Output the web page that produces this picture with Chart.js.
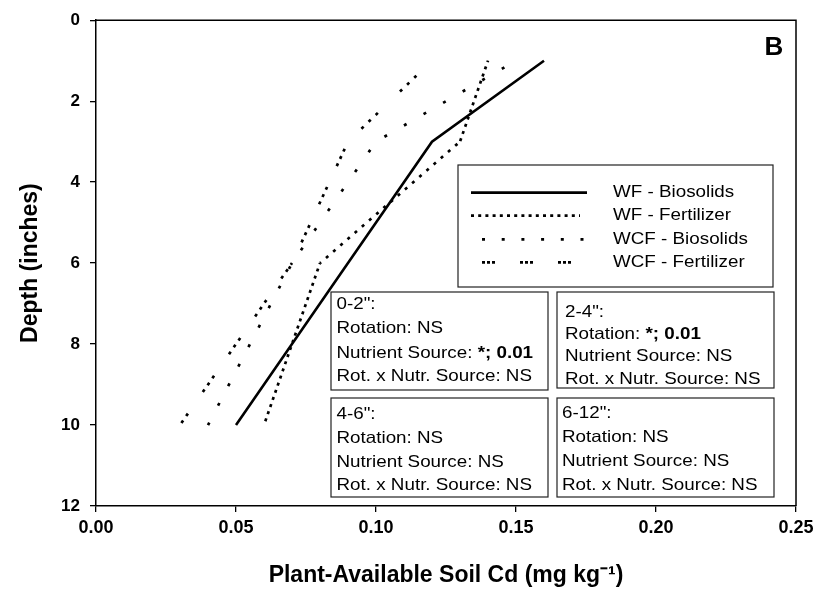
<!DOCTYPE html>
<html><head><meta charset="utf-8">
<script src="https://cdn.jsdelivr.net/npm/chart.js@4.4.1/dist/chart.umd.min.js"></script>
<style>html,body{margin:0;padding:0;background:#fff;}#wrap{width:819px;height:595px;}</style>
</head><body><div id="wrap"><canvas id="c" width="819" height="595"></canvas></div>
<script>
// ---- data ----
const depths = [1, 3, 6, 10];
const wfBiosolids   = [0.16, 0.12, 0.09, 0.05];
const wfFertilizer  = [0.14, 0.13, 0.08, 0.06];
const wcfBiosolids  = [0.15, 0.10, 0.07, 0.04];
const wcfFertilizer = [0.12, 0.09, 0.07, 0.03];
const seriesNames = ['WF - Biosolids', 'WF - Fertilizer', 'WCF - Biosolids', 'WCF - Fertilizer'];
const xTickValues = [0, 0.05, 0.10, 0.15, 0.20, 0.25];
const yTickValues = [0, 2, 4, 6, 8, 10, 12];
const statTitles = ['0-2":', '2-4":', '4-6":', '6-12":'];
const rotationResults = ['NS', '*; 0.01', 'NS', 'NS'];
const nutrientResults = ['*; 0.01', 'NS', 'NS', 'NS'];
const interactionResults = ['NS', 'NS', 'NS', 'NS'];
const panelLabel = 'B';

const FONT = '"Liberation Sans", Arial, Helvetica, sans-serif';
const pts = xs => xs.map((x, i) => ({x: x, y: depths[i]}));
const seriesData = [wfBiosolids, wfFertilizer, wcfBiosolids, wcfFertilizer];

// line styles (per segment dash pattern and phase)
const segDash = [
  [[], [], []],
  [[3, 4.6], [3, 6.5], [3, 4.55]],
  [[3, 19.6], [3, 20.8], [3, 19]],
  [[3, 6.9, 3, 6.9, 3, 30.7], [3, 5, 3, 5, 3, 23], [3, 5.4, 3, 5.4, 3, 26.2]]
];
const segOffset = [
  [0, 0, 0],
  [1.5, 6.1, 1.75],
  [9.2, 13.8, 18.4],
  [31.8, 34.1, 1]
];
const lineWidths = [2.6, 2.7, 2.7, 2.7];

function drawStretched(ctx, segs, x, y, size, sx) {
  ctx.save();
  ctx.translate(x, y);
  ctx.scale(sx, 1);
  ctx.textBaseline = 'middle';
  ctx.textAlign = 'left';
  ctx.fillStyle = '#000';
  let cx = 0;
  for (const s of segs) {
    ctx.font = (s.b ? 'bold ' : '') + size + 'px ' + FONT;
    ctx.fillText(s.t, cx, 0);
    cx += ctx.measureText(s.t).width;
  }
  ctx.restore();
}
function resultSegs(label, val) {
  return [{t: label, b: false}, {t: val, b: val !== 'NS'}];
}

const framePlugin = {
  id: 'frame',
  afterDatasetsDraw(chart) {
    const {ctx, chartArea: a} = chart;
    ctx.save();
    ctx.strokeStyle = '#000';
    ctx.lineWidth = 1.5;
    ctx.beginPath();
    ctx.moveTo(a.left, a.top); ctx.lineTo(a.right, a.top); ctx.lineTo(a.right, a.bottom);
    ctx.stroke();
    ctx.font = 'bold 26px ' + FONT;
    ctx.textAlign = 'center'; ctx.textBaseline = 'middle'; ctx.fillStyle = '#000';
    ctx.fillText(panelLabel, a.right - 22, a.top + 28);

    const TS = 16.5, SX = 1.14;
    const lb = {x: 458, y: 165, w: 315, h: 122};
    ctx.fillStyle = '#fff';
    ctx.fillRect(lb.x, lb.y, lb.w, lb.h);
    ctx.strokeStyle = '#222'; ctx.lineWidth = 1.2;
    ctx.strokeRect(lb.x, lb.y, lb.w, lb.h);
    const rowY = [192.7, 215.7, 239.3, 262.3];
    const legendDash = [[], [3, 4.2], [3, 16.7], [3, 2, 3, 2, 3, 25]];
    const legendStart = [471, 471, 482, 482];
    const legendEnd = [587, 580, 584, 586];
    for (let i = 0; i < 4; i++) {
      ctx.save();
      ctx.strokeStyle = '#000';
      ctx.lineWidth = 2.7;
      ctx.setLineDash(legendDash[i]);
      ctx.beginPath();
      ctx.moveTo(legendStart[i], rowY[i]); ctx.lineTo(legendEnd[i], rowY[i]);
      ctx.stroke();
      ctx.restore();
      drawStretched(ctx, [{t: seriesNames[i], b: false}], 613, rowY[i], TS, SX);
    }
    const boxes = [
      {x: 331, y: 292, w: 217, h: 98, tx: 336.5, ty: [304, 328.5, 353, 376.5]},
      {x: 557, y: 292, w: 217, h: 96, tx: 565, ty: [312, 334, 356.5, 379.5]},
      {x: 331, y: 398, w: 217, h: 99, tx: 336.5, ty: [414, 438, 462, 485.5]},
      {x: 557, y: 398, w: 217, h: 99, tx: 562, ty: [413, 437, 461, 485]}
    ];
    boxes.forEach((b, i) => {
      ctx.fillStyle = '#fff';
      ctx.fillRect(b.x, b.y, b.w, b.h);
      ctx.strokeStyle = '#222'; ctx.lineWidth = 1.2;
      ctx.strokeRect(b.x, b.y, b.w, b.h);
      drawStretched(ctx, [{t: statTitles[i], b: false}], b.tx, b.ty[0], TS, SX);
      drawStretched(ctx, resultSegs('Rotation: ', rotationResults[i]), b.tx, b.ty[1], TS, SX);
      drawStretched(ctx, resultSegs('Nutrient Source: ', nutrientResults[i]), b.tx, b.ty[2], TS, SX);
      drawStretched(ctx, resultSegs('Rot. x Nutr. Source: ', interactionResults[i]), b.tx, b.ty[3], TS, SX);
    });
    ctx.restore();
  }
};

new Chart(document.getElementById('c').getContext('2d'), {
  type: 'scatter',
  data: {
    datasets: seriesData.map((d, i) => ({
      label: seriesNames[i],
      data: pts(d),
      showLine: true,
      borderColor: '#000',
      backgroundColor: '#000',
      borderWidth: lineWidths[i],
      borderCapStyle: 'butt',
      segment: {
        borderDash: c => segDash[i][c.p0DataIndex],
        borderDashOffset: c => segOffset[i][c.p0DataIndex]
      },
      pointRadius: 0,
      tension: 0,
      fill: false
    }))
  },
  options: {
    responsive: false,
    animation: false,
    events: [],
    layout: {padding: {left: 0, right: 23, top: 15, bottom: 0}},
    plugins: {legend: {display: false}, tooltip: {enabled: false}},
    scales: {
      x: {
        type: 'linear', min: 0, max: 0.25,
        afterBuildTicks: s => { s.ticks = xTickValues.map(v => ({value: v})); },
        afterFit: s => { s.height = 89; },
        ticks: {callback: v => Number(v).toFixed(2), color: '#000', padding: 5, maxRotation: 0,
                font: {family: FONT, size: 18, weight: 'bold'}},
        grid: {drawOnChartArea: false, tickLength: 6, color: '#000', lineWidth: 1.3},
        border: {color: '#000', width: 1.5},
        title: {display: true, text: 'Plant-Available Soil Cd (mg kg\u207B\u00B9)', color: '#000',
                font: {family: FONT, size: 23, weight: 'bold'}, padding: {top: 0, bottom: 6}}
      },
      y: {
        type: 'linear', reverse: true, min: 0, max: 12,
        afterBuildTicks: s => { s.ticks = yTickValues.map(v => ({value: v})); },
        afterFit: s => { s.width = 96; },
        ticks: {color: '#000', padding: 10, font: {family: FONT, size: 17, weight: 'bold'}},
        grid: {drawOnChartArea: false, tickLength: 6, color: '#000', lineWidth: 1.3},
        border: {color: '#000', width: 1.5},
        title: {display: true, text: 'Depth (inches)', color: '#000',
                font: {family: FONT, size: 23, weight: 'bold'}, padding: {top: 17, bottom: 0}}
      }
    }
  },
  plugins: [framePlugin]
});
</script></body></html>
